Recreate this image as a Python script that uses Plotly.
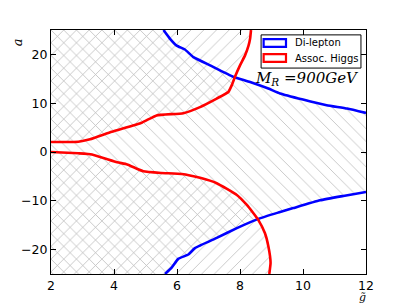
import plotly.graph_objects as go

# Di-lepton exclusion boundary (blue), upper and lower branches
dil_up_g = [5.57, 5.78, 5.99, 6.25, 6.52, 7.05, 7.79, 8.32, 8.9, 9.27, 10.0, 10.75, 11.4, 12.0]
dil_up_a = [25.0, 23.2, 21.8, 21.0, 19.45, 17.75, 15.4, 14.35, 13.0, 12.0, 10.75, 9.6, 8.9, 8.0]
dil_lo_g = [5.62, 5.83, 6.04, 6.36, 6.57, 7.26, 7.9, 8.58, 9.22, 9.69, 10.54, 11.28, 12.0]
dil_lo_a = [-25.0, -23.7, -21.9, -21.0, -19.7, -17.6, -15.6, -13.7, -12.4, -11.5, -9.9, -9.0, -8.2]

# Associated Higgs exclusion boundary (red), upper and lower branches
hig_up_g = [2.0, 2.87, 3.24, 3.93, 4.88, 5.35, 6.2, 6.73, 7.26, 7.63, 7.74, 7.84, 8.0, 8.16, 8.27, 8.32, 8.35]
hig_up_a = [2.04, 2.1, 2.6, 4.15, 6.0, 7.5, 7.95, 9.2, 10.95, 12.3, 13.7, 15.4, 17.75, 19.8, 21.8, 23.2, 25.0]
hig_lo_g = [2.0, 2.87, 3.3, 4.1, 4.42, 4.93, 5.5, 6.15, 6.73, 7.26, 7.9, 8.21, 8.42, 8.58, 8.79, 8.9, 8.97, 8.93]
hig_lo_a = [0.0, -0.27, -0.5, -2.1, -2.55, -3.95, -4.3, -4.5, -5.3, -6.4, -8.8, -10.8, -12.5, -13.9, -16.6, -19.3, -22.7, -25.0]

legend_names = ["Di-lepton", "Assoc. Higgs"]
x_ticks = [2, 4, 6, 8, 10, 12]
y_ticks = [-20, -10, 0, 10, 20]
y_tick_text = ["\u221220", "\u221210", "0", "10", "20"]
x_range = [2, 12]
y_range = [-25, 25]

BLUE = "#0000ff"
RED = "#ff0000"
HATCH = "#c4c4c4"
CLEAR = "rgba(0,0,0,0)"

fig = go.Figure()

# Di-lepton hatched region (between blue branches, toward small g)
poly_g = dil_up_g + dil_lo_g[::-1] + [x_range[0], x_range[0]]
poly_a = dil_up_a + dil_lo_a[::-1] + [y_range[0], y_range[1]]
fig.add_trace(go.Scatter(
    x=poly_g, y=poly_a, mode="lines", fill="toself", fillcolor=CLEAR,
    line=dict(width=0, color=CLEAR), showlegend=False, hoverinfo="skip",
    fillpattern=dict(shape="\\", fgcolor=HATCH, bgcolor=CLEAR, size=9, solidity=0.1, fillmode="replace"),
))

# Assoc. Higgs hatched regions (outside red branches, toward small g)
up_g = hig_up_g + [x_range[0]]
up_a = hig_up_a + [y_range[1]]
lo_g = hig_lo_g + [x_range[0]]
lo_a = hig_lo_a + [y_range[0]]
for gg, aa in [(up_g, up_a), (lo_g, lo_a)]:
    fig.add_trace(go.Scatter(
        x=gg, y=aa, mode="lines", fill="toself", fillcolor=CLEAR,
        line=dict(width=0, color=CLEAR), showlegend=False, hoverinfo="skip",
        fillpattern=dict(shape="/", fgcolor=HATCH, bgcolor=CLEAR, size=9, solidity=0.1, fillmode="replace"),
    ))

# Boundary lines
for gg, aa, c in [(dil_up_g, dil_up_a, BLUE), (dil_lo_g, dil_lo_a, BLUE),
                  (hig_up_g, hig_up_a, RED), (hig_lo_g, hig_lo_a, RED)]:
    fig.add_trace(go.Scatter(x=gg, y=aa, mode="lines", line=dict(color=c, width=2.6, shape="spline", smoothing=0.4),
                             showlegend=False, hoverinfo="skip"))

axis_common = dict(
    showgrid=False, zeroline=False, showline=True, linecolor="black", linewidth=1,
    mirror="ticks", ticks="inside", ticklen=5, tickwidth=1, tickcolor="black",
    tickfont=dict(family="DejaVu Sans", size=12.5, color="black"),
)
fig.update_xaxes(range=x_range, tickvals=x_ticks, **axis_common)
fig.update_yaxes(range=y_range, tickvals=y_ticks, ticktext=y_tick_text, **axis_common)

# Hand-made legend box (matplotlib style patches)
shapes = [dict(type="rect", xref="paper", yref="paper", x0=0.667, x1=0.984, y0=0.844, y1=0.980,
               line=dict(color="black", width=1), fillcolor="white")]
annotations = []
rows = [(0.947, BLUE), (0.885, RED)]
for (yc, col), name in zip(rows, legend_names):
    shapes.append(dict(type="rect", xref="paper", yref="paper", x0=0.675, x1=0.746,
                       y0=yc - 0.016, y1=yc + 0.016, line=dict(color=col, width=2.2), fillcolor="white"))
    annotations.append(dict(text=name, xref="paper", yref="paper", x=0.768, y=yc,
                            xanchor="left", yanchor="middle", showarrow=False,
                            font=dict(family="DejaVu Sans", size=10, color="black")))

annotations += [
    dict(text="<i>M</i><sub><i>R</i></sub> =<i>900GeV</i>", xref="paper", yref="paper",
         x=0.984, y=0.80, xanchor="right", yanchor="middle", showarrow=False,
         font=dict(family="DejaVu Serif", size=15, color="black")),
    dict(text="<i>a</i>", xref="paper", yref="paper", x=-0.108, y=0.95,
         xanchor="center", yanchor="middle", showarrow=False, textangle=-90,
         font=dict(family="DejaVu Serif", size=13, color="black")),
    dict(text="<i>g\u0303</i>", xref="paper", yref="paper", x=0.99, y=-0.125,
         xanchor="center", yanchor="bottom", showarrow=False, borderpad=0,
         font=dict(family="DejaVu Serif", size=11, color="black")),
]

fig.update_layout(
    width=407, height=305,
    margin=dict(l=51, r=41, t=30, b=31),
    plot_bgcolor="white", paper_bgcolor="white",
    showlegend=False,
    shapes=shapes,
    annotations=annotations,
)

fig.write_html("out.html", config={"displayModeBar": False},
               post_script="document.body.style.margin='0';document.body.style.padding='0';")
